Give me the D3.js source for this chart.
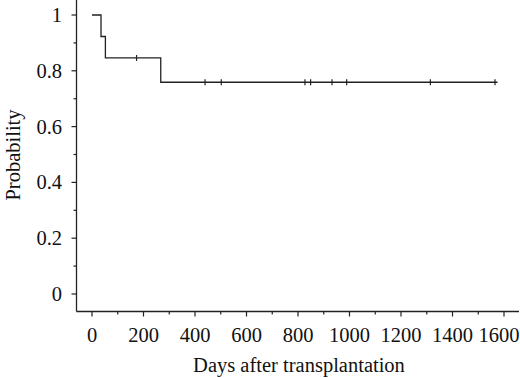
<!DOCTYPE html>
<html><head><meta charset="utf-8">
<script src="https://cdn.jsdelivr.net/npm/d3@7"></script>
<style>body{margin:0;background:#fff}svg{display:block}</style>
</head><body>
<script>
// Kaplan-Meier step data
const eventDays = [0, 35, 52, 267];
const survival = [1.0, 0.923, 0.846, 0.759];
const censorDays = [173, 439, 502, 827, 849, 932, 989, 1314, 1565];
const lastDay = 1575;
const xTicks = [0, 200, 400, 600, 800, 1000, 1200, 1400, 1600];
const yTicks = [0, 0.2, 0.4, 0.6, 0.8, 1];

const W = 520, H = 378;
const FONT = "'Liberation Serif', 'Times New Roman', Times, 'DejaVu Serif', serif";
const svg = d3.select("body").append("svg").attr("width", W).attr("height", H)
  .attr("font-family", FONT);
const x = d3.scaleLinear().domain([0, 1600]).range([92, 504]);
const y = d3.scaleLinear().domain([0, 1]).range([294, 15]);
const axisX = 76.5, axisY = 311.5;
const col = "#222";

// axes lines
svg.append("line").attr("x1", axisX).attr("x2", axisX).attr("y1", 0).attr("y2", axisY)
  .attr("stroke", col).attr("stroke-width", 1.3);
svg.append("line").attr("x1", axisX).attr("x2", 519).attr("y1", axisY).attr("y2", axisY)
  .attr("stroke", col).attr("stroke-width", 1.3);

// y ticks
const yMinor = d3.range(0, 1.01, 0.1);
svg.selectAll(".ym").data(yMinor).enter().append("line")
  .attr("x1", axisX).attr("x2", (d,i)=> i%2===0 ? axisX-5 : axisX-3)
  .attr("y1", d=>y(d)).attr("y2", d=>y(d)).attr("stroke", col).attr("stroke-width", 1.2);
svg.selectAll(".yl").data(yTicks).enter().append("text")
  .attr("x", 62).attr("y", d=>y(d)+7).attr("text-anchor", "end").attr("font-size", 20.5)
  .attr("fill", "#111").text(d=>d3.format("~g")(d));

// x ticks
const xMinor = d3.range(0, 1601, 100);
svg.selectAll(".xm").data(xMinor).enter().append("line")
  .attr("x1", d=>x(d)).attr("x2", d=>x(d)).attr("y1", axisY)
  .attr("y2", (d,i)=> i%2===0 ? axisY+5 : axisY+3).attr("stroke", col).attr("stroke-width", 1.2);
svg.selectAll(".xl").data(xTicks).enter().append("text")
  .attr("x", d=>Math.min(x(d), 499)).attr("y", 342).attr("text-anchor", "middle").attr("font-size", 20.5)
  .attr("fill", "#111").text(d=>d);

// axis titles
svg.append("text").attr("x", 299).attr("y", 372).attr("text-anchor", "middle")
  .attr("font-size", 20.5).attr("fill", "#111").text("Days after transplantation");
svg.append("text").attr("transform", "translate(20,155) rotate(-90)")
  .attr("text-anchor", "middle").attr("font-size", 20.5).attr("fill", "#111").text("Probability");

// KM curve
const pts = [];
for (let i = 0; i < eventDays.length; i++) {
  pts.push([eventDays[i], survival[i]]);
  const next = i < eventDays.length - 1 ? eventDays[i+1] : lastDay;
  pts.push([next, survival[i]]);
}
const line = d3.line().x(d=>x(d[0])).y(d=>y(d[1]));
svg.append("path").attr("d", line(pts)).attr("fill", "none").attr("stroke", col).attr("stroke-width", 1.3);

function survAt(t){ let s = survival[0]; eventDays.forEach((e,i)=>{ if (t >= e) s = survival[i]; }); return s; }
svg.selectAll(".cens").data(censorDays).enter().append("line")
  .attr("x1", d=>x(d)).attr("x2", d=>x(d))
  .attr("y1", d=>y(survAt(d))-3).attr("y2", d=>y(survAt(d))+3)
  .attr("stroke", col).attr("stroke-width", 1.2);
</script>
</body></html>
